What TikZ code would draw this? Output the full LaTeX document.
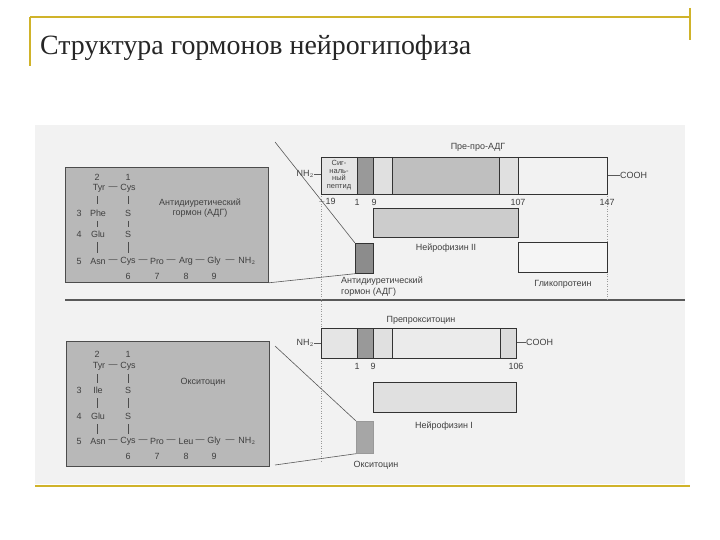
\documentclass[tikz,border=0pt]{standalone}
\usepackage{fontspec}
\setmainfont{Liberation Serif}
\newfontfamily\lab{Liberation Sans}
\begin{document}
\begin{tikzpicture}[x=1bp,y=-1bp,
  t/.style={font=\lab\fontsize{9}{10.5}\selectfont,text=black!75,inner sep=0pt},
  pbox/.style={draw=black!70,line width=0.8pt,fill=black!28},
  bar/.style={draw=black!80,line width=0.7pt},
  lnk/.style={draw=black!65,line width=0.6pt},
  vb/.style={draw=black!70,line width=0.6pt},
  gl/.style={draw=black!40,dash pattern=on 1pt off 1.5pt,line width=0.5pt},
  yl/.style={draw=yellow!70!orange!80!black,line width=1.2pt}]
\useasboundingbox (0,0) rectangle (720,540);
\fill[white] (0,0) rectangle (720,540);
% slide frame
\draw[yl] (30,17) -- (690,17);
\draw[yl] (30,17) -- (30,66);
\draw[yl] (690,8) -- (690,40);
\draw[yl] (35,486) -- (690,486);
\node[anchor=west,inner sep=0pt,font=\fontsize{28}{30}\selectfont,text=black!85] (title) at (40,48) {Структура гормонов нейрогипофиза};
% picture background
\fill[black!5] (35,125) rectangle (685,484);
% separator
\draw[draw=black!65,line width=1.3pt] (65,300) -- (685,300);
\draw[gl] (321,194) -- (321,462);
\draw[gl] (607,194) -- (607,300);

% ---------- upper peptide box (ADH) ----------
\node[pbox,minimum width=203bp,minimum height=115bp,anchor=north west] (adhbox) at (65,167) {};
\foreach \n/\x/\y/\s in {a2/97/177/2,a1/128/177/1,a3/79/213/3,a4/79/234/4,a5/79/261/5,a6/128/276/6,a7/157/276/7,a8/186/276/8,a9/214/276/9,
  tyr/99/188/Tyr,cys1/128/188/Cys,phe/98/213/Phe,s1/128/213/S,glu/98/234/Glu,s2/128/234/S,
  asn/98/261/Asn,cys6/128/261/Cys,pro/157/261/Pro,arg/186/261/Arg,gly/214/261/Gly,nh/247/261/NH$_2$,
  d1/113/188/—,d2/113/261/—,d3/143/261/—,d4/171/261/—,d5/200/261/—,d6/230/261/—}
  \node[t] (u\n) at (\x,\y) {\s};
\draw[vb] (97,196)--(97,204) (97,221)--(97,227) (97,242)--(97,253);
\draw[vb] (128,196)--(128,204) (128,221)--(128,227) (128,242)--(128,253);
\node[t,align=center] (adhname) at (200,208) {Антидиуретический\\гормон (АДГ)};

% ---------- pre-pro-ADH ----------
\fill[black!10] (321,157) rectangle (357,194);
\fill[black!40] (357,157) rectangle (373,194);
\fill[black!12] (373,157) rectangle (392,194);
\fill[black!25] (392,157) rectangle (499,194);
\fill[black!12] (499,157) rectangle (518,194);
\fill[black!5] (518,157) rectangle (607,194);
\node[bar,minimum width=286bp,minimum height=37bp,anchor=north west] (prepro) at (321,157) {};
\draw[bar] (357,157)--(357,194) (373,157)--(373,194) (392,157)--(392,194) (499,157)--(499,194) (518,157)--(518,194);
\node[t,align=center,font=\lab\fontsize{7.5}{7.6}\selectfont] (signal) at (339,175) {Сиг-\\наль-\\ный\\пептид};
\node[t] (preprolab) at (478,147) {Пре-про-АДГ};
\node[t,anchor=east] (nh2a) at (314,174) {NH$_2$};
\node[t,anchor=west] (cooha) at (620,175) {COOH};
\draw[lnk] (nh2a.east) -- (prepro.west|-nh2a.east);
\draw[lnk] (prepro.east|-cooha.west) -- (cooha.west);
\node[t] (na1) at (327,202) {$-$19};
\node[t] (na2) at (357,202) {1};
\node[t] (na3) at (374,202) {9};
\node[t] (na4) at (518,202) {107};
\node[t] (na5) at (607,202) {147};
\node[bar,fill=black!20,minimum width=145bp,minimum height=29bp,anchor=north west] (np2) at (373,208) {};
\node[t] (np2lab) at (446,248) {Нейрофизин II};
\node[bar,fill=black!45,minimum width=18bp,minimum height=30bp,anchor=north west] (adh) at (355,243) {};
\node[t,align=left,anchor=north west] (adhlab) at (341,277) {Антидиуретический\\гормон (АДГ)};
\node[bar,fill=black!4,minimum width=89bp,minimum height=30bp,anchor=north west] (glyco) at (518,242) {};
\node[t] (glycolab) at (563,284) {Гликопротеин};
\draw[lnk] (275,142) -- (adh.north west);
\draw[lnk] (adhbox.south east) -- (adh.south west);

% ---------- lower peptide box (oxytocin) ----------
\node[pbox,minimum width=203bp,minimum height=125bp,anchor=north west] (oxbox) at (66,341) {};
\foreach \n/\x/\y/\s in {a2/97/354/2,a1/128/354/1,a3/79/390/3,a4/79/416/4,a5/79/441/5,a6/128/456/6,a7/157/456/7,a8/186/456/8,a9/214/456/9,
  tyr/99/366/Tyr,cys1/128/366/Cys,ile/98/390/Ile,s1/128/390/S,glu/98/416/Glu,s2/128/416/S,
  asn/98/441/Asn,cys6/128/441/Cys,pro/157/441/Pro,leu/186/441/Leu,gly/214/441/Gly,nh/247/441/NH$_2$,
  d1/113/366/—,d2/113/441/—,d3/143/441/—,d4/171/441/—,d5/200/441/—,d6/230/441/—}
  \node[t] (l\n) at (\x,\y) {\s};
\draw[vb] (97,374)--(97,383) (97,398)--(97,408) (97,424)--(97,434);
\draw[vb] (128,374)--(128,383) (128,398)--(128,408) (128,424)--(128,434);
\node[t] (oxname) at (203,382) {Окситоцин};

% ---------- preprooxytocin ----------
\fill[black!10] (321,328) rectangle (357,358);
\fill[black!40] (357,328) rectangle (373,358);
\fill[black!12] (373,328) rectangle (392,358);
\fill[black!8] (392,328) rectangle (500,358);
\fill[black!14] (500,328) rectangle (516,358);
\node[bar,minimum width=195bp,minimum height=30bp,anchor=north west] (preox) at (321,328) {};
\draw[bar] (357,328)--(357,358) (373,328)--(373,358) (392,328)--(392,358) (500,328)--(500,358);
\node[t] (preoxlab) at (421,320) {Препрокситоцин};
\node[t,anchor=east] (nh2b) at (314,343) {NH$_2$};
\node[t,anchor=west] (coohb) at (526,342) {COOH};
\draw[lnk] (nh2b.east) -- (preox.west|-nh2b.east);
\draw[lnk] (preox.east|-coohb.west) -- (coohb.west);
\node[t] (nb1) at (357,366) {1};
\node[t] (nb2) at (373,366) {9};
\node[t] (nb3) at (516,366) {106};
\node[bar,fill=black!12,minimum width=143bp,minimum height=30bp,anchor=north west] (np1) at (373,382) {};
\node[t] (np1lab) at (444,426) {Нейрофизин I};
\node[bar,draw=black!40,fill=black!35,minimum width=17bp,minimum height=32bp,anchor=north west] (ox) at (356,421) {};
\node[t] (oxlab) at (376,465) {Окситоцин};
\draw[lnk] (275,346) -- (ox.north west);
\draw[lnk] (275,465) -- (ox.south west);
\end{tikzpicture}
\end{document}
